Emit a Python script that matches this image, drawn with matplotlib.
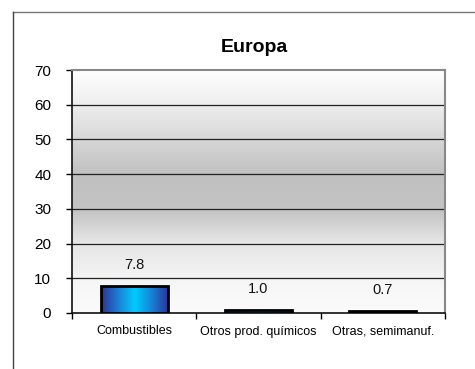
import numpy as np
import matplotlib
matplotlib.use("Agg")
import matplotlib.pyplot as plt
from matplotlib.colors import LinearSegmentedColormap
from matplotlib.lines import Line2D

# datos
categorias = ["Combustibles", "Otros prod. químicos", "Otras, semimanuf."]
valores = [7.8, 1.0, 0.7]
etiquetas = ["7.8", "1.0", "0.7"]
titulo = "Europa"
y_ticks = [0, 10, 20, 30, 40, 50, 60, 70]

fuente = ["Liberation Sans", "DejaVu Sans"]
plt.rcParams["font.family"] = fuente

fig = plt.figure(figsize=(4.75, 3.69), dpi=100)
ax = fig.add_axes([72 / 475, 1 - 313 / 369, (445 - 72) / 475, (313 - 70) / 369])

x = np.arange(len(categorias))

# fondo degradado gris
fondo = LinearSegmentedColormap.from_list(
    "fondo",
    [(0.0, "#fbfbfb"), (0.12, "#f6f6f6"), (0.3, "#e4e4e4"), (0.42, "#c4c4c4"),
     (0.57, "#c0c0c0"), (0.72, "#d8d8d8"), (0.86, "#eeeeee"), (1.0, "#ffffff")])
grad = np.linspace(0, 1, 256).reshape(-1, 1)
ax.imshow(grad, cmap=fondo, origin="lower", aspect="auto",
          extent=[-0.5, len(categorias) - 0.5, 0, 70], zorder=0)

# barras con degradado horizontal
azul = LinearSegmentedColormap.from_list("azul", ["#2e3192", "#1a7fd6", "#00ccff", "#1a7fd6", "#2e3192"])
barras = ax.bar(x, valores, width=0.54, facecolor="none", edgecolor="black",
                linewidth=2, zorder=4)
hgrad = np.linspace(0, 1, 256).reshape(1, -1)
for b in barras:
    x0, y0 = b.get_x(), b.get_y()
    im = ax.imshow(hgrad, cmap=azul, aspect="auto",
                   extent=[x0, x0 + b.get_width(), y0, y0 + b.get_height()], zorder=3)
    im.set_clip_path(b)
ax.set_xlim(-0.5, len(categorias) - 0.5)
ax.set_ylim(0, 70)

for xi, v, t in zip(x, valores, etiquetas):
    ax.annotate(t, (xi, v), xytext=(0, 10), textcoords="offset points",
                ha="center", va="bottom", fontsize=10.5, color="#111111")

# lineas de cuadricula
for yv in y_ticks[1:-1]:
    ax.axhline(yv, color="#222222", linewidth=0.9, zorder=2)

ax.set_yticks(y_ticks)
ax.set_xticks(np.arange(-0.5, len(categorias), 1.0))
ax.set_xticklabels([])
ax.set_xticks(x, minor=True)
ax.set_xticklabels(categorias, minor=True, fontsize=9)
ax.tick_params(axis="x", which="minor", length=0, pad=9)
ax.tick_params(axis="x", which="major", length=4, width=1, direction="out")
ax.tick_params(axis="y", length=4, width=1, direction="out", pad=11, labelsize=11)

for s in ["left", "bottom"]:
    ax.spines[s].set_color("#111111")
    ax.spines[s].set_linewidth(1.2)
for s in ["top", "right"]:
    ax.spines[s].set_color("#888888")
    ax.spines[s].set_linewidth(1.5)

fig.text(254 / 475, 1 - 47 / 369, titulo, ha="center", va="center",
         fontsize=14, fontweight="bold")

# marco exterior
fig.add_artist(Line2D([13 / 475, 1], [1 - 12 / 369] * 2, color="#777777", linewidth=1))
fig.add_artist(Line2D([13 / 475] * 2, [0, 1 - 12 / 369], color="#444444", linewidth=1))

fig.savefig("out.png", dpi=100)
